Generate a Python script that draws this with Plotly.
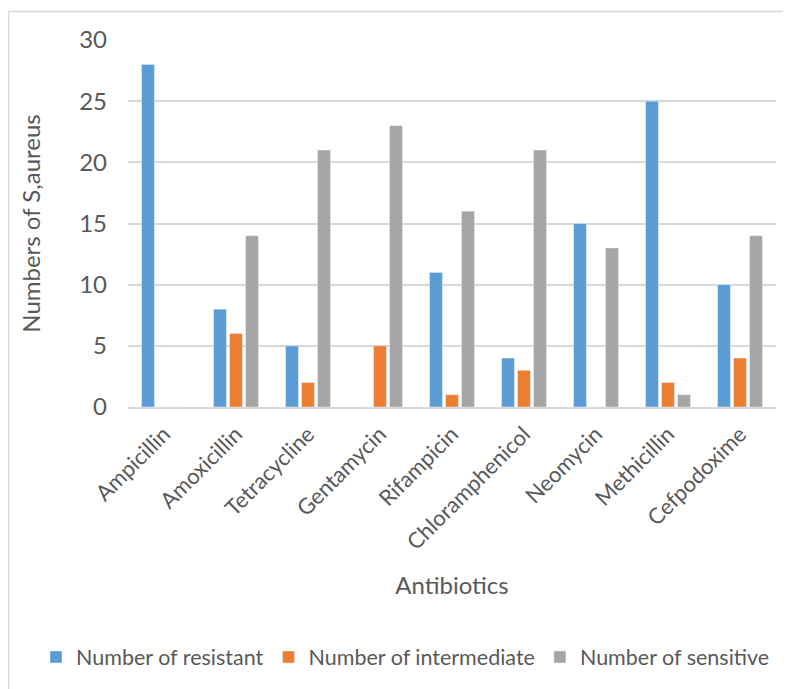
import plotly.graph_objects as go

categories = ["Ampicillin", "Amoxicillin", "Tetracycline", "Gentamycin", "Rifampicin",
              "Chloramphenicol", "Neomycin", "Methicillin", "Cefpodoxime"]
resistant = [28, 8, 5, 0, 11, 4, 15, 25, 10]
intermediate = [0, 6, 2, 5, 1, 3, 0, 2, 4]
sensitive = [0, 14, 21, 23, 16, 21, 13, 1, 14]
y_ticks = [0, 5, 10, 15, 20, 25, 30]

FONT = "Lato"
TXT = "#595959"
OX, OY = 8, 8  # page body margin
W, H = 791, 689
# plot area in window coords: x 128..776, y 40..407
L = 128 - OX
R = W - (776 - OX)
T = 40 - OY
B = H - (407 - OY)

fig = go.Figure()
fig.add_trace(go.Bar(x=categories, y=resistant, name="Number of resistant", marker_color="#5B9BD5"))
fig.add_trace(go.Bar(x=categories, y=intermediate, name="Number of intermediate", marker_color="#ED7D31"))
fig.add_trace(go.Bar(x=categories, y=sensitive, name="Number of sensitive", marker_color="#A5A5A5"))

pw = W - L - R
ph = H - T - B

def px2x(px):  # window px -> paper x
    return (px - OX - L) / pw

def py2y(py):  # window py -> paper y
    return (H - B - (py - OY)) / ph

border = dict(color="#d9d9d9", width=1.5)

fig.update_layout(
    width=W, height=H,
    margin=dict(l=L, r=R, t=T, b=B, autoexpand=False),
    paper_bgcolor="white", plot_bgcolor="white",
    font=dict(family=FONT, size=23, color=TXT),
    barmode="group", bargap=1/3, bargroupgap=0.2,
    legend=dict(orientation="h", x=px2x(36), xanchor="left",
                y=py2y(657), yanchor="middle",
                font=dict(family=FONT, size=21.5, color=TXT), traceorder="normal"),
    xaxis=dict(tickangle=-45, showgrid=False, showline=True, linecolor="#d9d9d9", linewidth=1.5,
               ticks="", ticklabelstandoff=4, automargin=False,
               tickfont=dict(size=22),
               title=dict(text="Antibiotics", standoff=23, font=dict(size=24, color=TXT))),
    yaxis=dict(range=[0, 30], tickvals=y_ticks, showgrid=True, gridcolor="#d9d9d9", gridwidth=1.5,
               zeroline=False, showline=False, ticks="", ticklabelstandoff=20, automargin=False,
               tickfont=dict(size=24),
               title=dict(text="Numbers of S,aureus", standoff=31, font=dict(size=24, color=TXT))),
    shapes=[
        dict(type="line", xref="paper", yref="paper",
             x0=px2x(8.5), x1=px2x(8.5), y0=py2y(H + 60), y1=py2y(11.5), line=border, layer="below"),
        dict(type="line", xref="paper", yref="paper",
             x0=px2x(8.5), x1=px2x(W + 60), y0=py2y(11.5), y1=py2y(11.5), line=border, layer="below"),
    ],
)

fig.write_html("out.html")
